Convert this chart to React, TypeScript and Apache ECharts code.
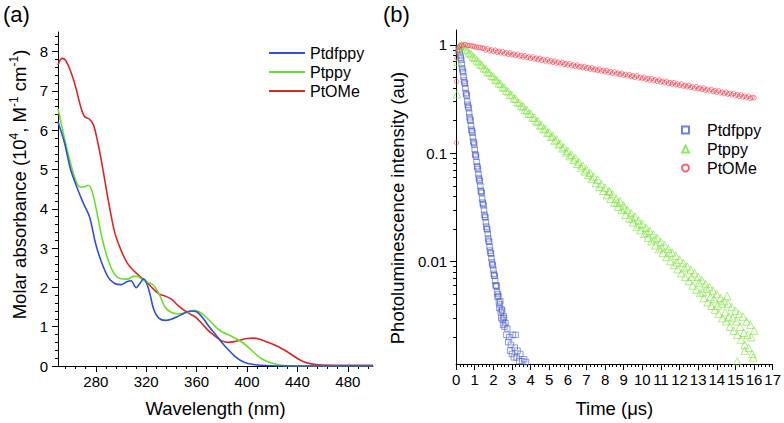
import React, { useEffect, useRef } from "react";
import * as echarts from "echarts";

const FONT = "'Liberation Sans', Arial, Helvetica, sans-serif";

// ---------- Panel (a): absorption spectra ----------
const seriesNames = ["Ptdfppy", "Ptppy", "PtOMe"];

const ptdfppyNm = [250, 255, 260, 265, 270, 275, 280, 285, 290, 295, 300, 305, 308, 312, 315, 318, 322, 326, 330, 335, 340, 345, 350, 355, 360, 365, 370, 375, 380, 385, 390, 395, 400, 405, 410, 420, 430, 500];
const ptdfppyAbs = [6.21, 5.7, 5.0, 4.55, 4.15, 3.8, 3.1, 2.6, 2.25, 2.1, 2.07, 2.15, 2.17, 1.99, 2.1, 2.22, 1.95, 1.44, 1.22, 1.16, 1.19, 1.26, 1.34, 1.4, 1.38, 1.22, 1.0, 0.8, 0.6, 0.42, 0.26, 0.14, 0.07, 0.04, 0.02, 0.005, 0, 0];

const ptppyNm = [250, 254, 259, 264, 268, 271, 274, 277, 280, 285, 290, 295, 300, 305, 310, 313, 317, 321, 325, 330, 335, 340, 345, 350, 355, 358, 362, 367, 372, 377, 382, 387, 392, 398, 403, 408, 413, 419, 425, 430, 440, 500];
const ptppyAbs = [6.55, 5.96, 5.28, 4.72, 4.55, 4.56, 4.6, 4.45, 4.05, 3.25, 2.68, 2.33, 2.22, 2.21, 2.28, 2.28, 2.2, 2.13, 2.08, 1.85, 1.5, 1.36, 1.33, 1.34, 1.39, 1.42, 1.38, 1.26, 1.1, 0.94, 0.84, 0.77, 0.68, 0.56, 0.42, 0.27, 0.16, 0.08, 0.03, 0.01, 0, 0];

const ptomeNm = [250, 253, 256, 260, 264, 268, 271, 275, 278, 281, 285, 290, 295, 300, 305, 310, 315, 320, 325, 330, 335, 340, 345, 350, 355, 360, 365, 370, 375, 380, 385, 390, 395, 400, 405, 410, 415, 420, 425, 430, 435, 440, 445, 450, 455, 460, 480, 500];
const ptomeAbs = [7.66, 7.83, 7.78, 7.5, 7.1, 6.6, 6.35, 6.28, 6.15, 5.78, 5.12, 4.2, 3.4, 2.95, 2.62, 2.43, 2.28, 2.15, 1.98, 1.84, 1.78, 1.7, 1.55, 1.42, 1.32, 1.22, 1.05, 0.88, 0.75, 0.64, 0.6, 0.62, 0.66, 0.7, 0.71, 0.68, 0.62, 0.56, 0.49, 0.4, 0.3, 0.19, 0.11, 0.06, 0.035, 0.025, 0.02, 0.02];

const wavelengthLabels = [280, 320, 360, 400, 440, 480];
const absorbanceLabels = [0, 1, 2, 3, 4, 5, 6, 7, 8];

// ---------- Panel (b): photoluminescence decays ----------
const ptdfppyDecay = [
  [0.15, 0.92], [0.2, 0.86], [0.25, 0.76], [0.3, 0.67], [0.35, 0.58], [0.4, 0.51], [0.45, 0.45], [0.5, 0.4],
  [0.55, 0.35], [0.6, 0.3], [0.65, 0.27], [0.7, 0.235], [0.75, 0.205], [0.8, 0.18], [0.85, 0.16], [0.9, 0.14],
  [0.95, 0.125], [1.0, 0.108], [1.05, 0.096], [1.1, 0.083], [1.15, 0.074], [1.2, 0.064], [1.25, 0.057], [1.3, 0.05],
  [1.35, 0.044], [1.4, 0.038], [1.45, 0.034], [1.5, 0.03], [1.55, 0.026], [1.6, 0.023], [1.65, 0.02], [1.7, 0.018],
  [1.75, 0.0155], [1.8, 0.0137], [1.85, 0.012], [1.9, 0.0107], [1.95, 0.0094], [2.0, 0.0084], [2.05, 0.0074],
  [2.1, 0.0066], [2.15, 0.006], [2.2, 0.0052], [2.25, 0.005], [2.3, 0.0042], [2.35, 0.004], [2.4, 0.0034],
  [2.45, 0.0036], [2.5, 0.0029], [2.55, 0.0031], [2.6, 0.0025], [2.65, 0.0027], [2.7, 0.0021], [2.75, 0.0024],
  [2.8, 0.0018], [2.85, 0.002], [2.9, 0.0015], [2.95, 0.0017], [3.0, 0.0014], [3.05, 0.0021], [3.1, 0.0013],
  [3.15, 0.0016], [3.2, 0.0021], [3.25, 0.0013], [3.3, 0.0015], [3.4, 0.0012], [3.45, 0.0014], [3.55, 0.0012],
  [3.65, 0.00125], [3.75, 0.00118],
  [0.175, 0.9], [0.225, 0.79], [0.275, 0.73], [0.325, 0.61], [0.375, 0.56], [0.425, 0.47], [0.475, 0.44],
  [0.525, 0.36], [0.575, 0.34], [0.625, 0.28], [0.675, 0.26], [0.725, 0.215], [0.775, 0.2], [0.825, 0.165],
  [0.875, 0.155], [0.925, 0.128], [0.975, 0.12], [1.025, 0.098], [1.075, 0.093], [1.125, 0.076], [1.175, 0.071],
  [1.225, 0.059], [1.275, 0.055], [1.325, 0.045], [1.375, 0.043], [1.425, 0.035], [1.475, 0.033], [1.525, 0.027],
  [1.575, 0.0255], [1.625, 0.021], [1.675, 0.0198], [1.725, 0.0163], [1.775, 0.0152], [1.825, 0.0126],
  [1.875, 0.0118], [1.925, 0.0098], [1.975, 0.0092], [2.025, 0.0077], [2.075, 0.0074], [2.125, 0.006],
  [2.175, 0.0059], [2.225, 0.0047], [2.275, 0.0048], [2.325, 0.0037], [2.375, 0.0043], [2.425, 0.003],
  [2.475, 0.0035], [2.525, 0.0026], [2.575, 0.003]
];

const ptppyDecay = [
  [0.05, 0.35], [0.08, 0.7], [0.12, 0.9], [0.2, 0.98],
  [0.3, 1.0], [0.4, 0.97], [0.5, 0.915], [0.6, 0.895], [0.7, 0.845], [0.8, 0.825], [0.9, 0.78], [1.0, 0.762],
  [1.1, 0.72], [1.2, 0.703], [1.3, 0.664], [1.4, 0.65], [1.5, 0.612], [1.6, 0.6], [1.7, 0.565], [1.8, 0.555],
  [1.9, 0.52], [2.0, 0.512], [2.1, 0.48], [2.2, 0.473], [2.3, 0.443], [2.4, 0.437], [2.5, 0.408], [2.6, 0.404],
  [2.7, 0.377], [2.8, 0.373], [2.9, 0.347], [3.0, 0.345], [3.1, 0.321], [3.2, 0.318], [3.3, 0.296], [3.4, 0.294],
  [3.5, 0.273], [3.6, 0.271], [3.7, 0.251], [3.8, 0.25], [3.9, 0.232], [4.0, 0.231], [4.1, 0.214], [4.2, 0.213],
  [4.3, 0.197], [4.4, 0.197], [4.5, 0.181], [4.6, 0.182], [4.7, 0.167], [4.8, 0.169], [4.9, 0.154], [5.0, 0.156],
  [5.1, 0.142], [5.2, 0.144], [5.3, 0.131], [5.4, 0.134], [5.5, 0.121], [5.6, 0.123], [5.7, 0.111], [5.8, 0.114],
  [5.9, 0.102], [6.0, 0.105], [6.1, 0.094], [6.2, 0.097], [6.3, 0.087], [6.4, 0.09], [6.5, 0.08], [6.6, 0.083],
  [6.7, 0.074], [6.8, 0.077], [6.9, 0.068], [7.0, 0.071], [7.1, 0.063], [7.2, 0.066], [7.3, 0.058], [7.4, 0.061],
  [7.5, 0.053], [7.6, 0.057], [7.7, 0.049], [7.8, 0.052], [7.9, 0.045], [8.0, 0.048], [8.1, 0.041], [8.2, 0.045],
  [8.3, 0.038], [8.4, 0.042], [8.5, 0.035], [8.6, 0.038], [8.7, 0.032], [8.8, 0.036], [8.9, 0.03], [9.0, 0.033],
  [9.1, 0.027], [9.2, 0.03], [9.3, 0.025], [9.4, 0.028], [9.5, 0.023], [9.6, 0.026], [9.7, 0.021], [9.8, 0.024],
  [9.9, 0.0195], [10.0, 0.0222], [10.1, 0.018], [10.2, 0.0205], [10.3, 0.0166], [10.4, 0.0192], [10.5, 0.0154],
  [10.6, 0.0178], [10.7, 0.0141], [10.8, 0.0165], [10.9, 0.013], [11.0, 0.0152], [11.1, 0.012], [11.2, 0.0141],
  [11.3, 0.011], [11.4, 0.0131], [11.5, 0.0101], [11.6, 0.0121], [11.7, 0.0093], [11.8, 0.0113], [11.9, 0.0085],
  [12.0, 0.0104], [12.1, 0.0078], [12.2, 0.0097], [12.3, 0.0072], [12.4, 0.009], [12.5, 0.0066], [12.6, 0.0084],
  [12.7, 0.006], [12.8, 0.0078], [12.9, 0.0055], [13.0, 0.0072], [13.1, 0.0051], [13.2, 0.0067], [13.3, 0.0046],
  [13.4, 0.0062], [13.5, 0.0042], [13.6, 0.0058], [13.7, 0.0039], [13.8, 0.0054], [13.9, 0.0036], [14.0, 0.005],
  [14.1, 0.0033], [14.2, 0.0046], [14.3, 0.003], [14.4, 0.0043], [14.5, 0.0028], [14.6, 0.0041], [14.7, 0.0025],
  [14.8, 0.0038], [14.9, 0.0023], [15.0, 0.0035], [15.1, 0.0021], [15.2, 0.0033], [15.3, 0.0019], [15.4, 0.0031],
  [15.5, 0.0017], [15.6, 0.0028], [15.7, 0.0016], [15.8, 0.0026], [15.9, 0.0014], [16.0, 0.0023],
  [8.25, 0.044], [8.65, 0.035], [9.05, 0.031], [9.45, 0.025], [9.85, 0.022], [10.25, 0.0185], [10.65, 0.016],
  [11.05, 0.0135], [11.45, 0.012], [11.85, 0.0098], [12.25, 0.0087], [12.65, 0.0072], [13.05, 0.0064],
  [13.25, 0.0052], [13.45, 0.0056], [13.65, 0.0047], [13.85, 0.0045], [14.05, 0.0039], [14.25, 0.0041],
  [14.45, 0.0034], [14.56, 0.0048], [14.65, 0.0031], [14.85, 0.003], [15.05, 0.0028], [15.25, 0.0025],
  [15.45, 0.0022], [15.65, 0.0021], [15.85, 0.002], [15.95, 0.0013], [15.1, 0.0012], [15.5, 0.0015]
];

const ptomeDecay = [
  [0.02, 0.125], [0.03, 0.46], [0.05, 0.76], [0.07, 0.88], [0.1, 0.95], [0.2, 0.98], [0.3, 0.99], [0.4, 1.0],
  [0.5, 1.01], [0.6, 0.99], [0.7, 0.99], [0.8, 0.98], [0.9, 0.975], [1.0, 0.965], [1.1, 0.955], [1.2, 0.95],
  [1.3, 0.945], [1.4, 0.935], [1.5, 0.93], [1.7, 0.92], [1.9, 0.9], [2.1, 0.895], [2.3, 0.875], [2.5, 0.87],
  [2.7, 0.85], [2.9, 0.845], [3.1, 0.825], [3.3, 0.82], [3.5, 0.8], [3.7, 0.797], [3.9, 0.778], [4.1, 0.775],
  [4.3, 0.755], [4.5, 0.752], [4.7, 0.735], [4.9, 0.732], [5.1, 0.714], [5.3, 0.711], [5.5, 0.693], [5.7, 0.69],
  [5.9, 0.673], [6.1, 0.671], [6.3, 0.654], [6.5, 0.652], [6.7, 0.635], [6.9, 0.633], [7.1, 0.617], [7.3, 0.615],
  [7.5, 0.599], [7.7, 0.598], [7.9, 0.583], [8.1, 0.581], [8.3, 0.566], [8.5, 0.565], [8.7, 0.55], [8.9, 0.548],
  [9.1, 0.535], [9.3, 0.533], [9.5, 0.519], [9.7, 0.518], [9.9, 0.504], [10.1, 0.503], [10.3, 0.49], [10.5, 0.489],
  [10.7, 0.476], [10.9, 0.475], [11.1, 0.462], [11.3, 0.462], [11.5, 0.449], [11.7, 0.449], [11.9, 0.436],
  [12.1, 0.436], [12.3, 0.424], [12.5, 0.424], [12.7, 0.412], [12.9, 0.412], [13.1, 0.4], [13.3, 0.4], [13.5, 0.389],
  [13.7, 0.388], [13.9, 0.378], [14.1, 0.377], [14.3, 0.367], [14.5, 0.366], [14.7, 0.357], [14.9, 0.356],
  [15.1, 0.347], [15.3, 0.346], [15.5, 0.337], [15.7, 0.336], [15.9, 0.328], [16.0, 0.325],
  [1.6, 0.896], [1.8, 0.883], [2.0, 0.871], [2.2, 0.858], [2.4, 0.846], [2.6, 0.833], [2.8, 0.821], [3.0, 0.81],
  [3.2, 0.798], [3.4, 0.787], [3.6, 0.775], [3.8, 0.764], [4.0, 0.753], [4.2, 0.743], [4.4, 0.732], [4.6, 0.721],
  [4.8, 0.711], [5.0, 0.701], [5.2, 0.691], [5.4, 0.681], [5.6, 0.671], [5.8, 0.662], [6.0, 0.652], [6.2, 0.643],
  [6.4, 0.634], [6.6, 0.625], [6.8, 0.616], [7.0, 0.607], [7.2, 0.598], [7.4, 0.59], [7.6, 0.581], [7.8, 0.573],
  [8.0, 0.565], [8.2, 0.556], [8.4, 0.549], [8.6, 0.541], [8.8, 0.533], [9.0, 0.525], [9.2, 0.518], [9.4, 0.51],
  [9.6, 0.503], [9.8, 0.496], [10.0, 0.489], [10.2, 0.482], [10.4, 0.475], [10.6, 0.468], [10.8, 0.461],
  [11.0, 0.455], [11.2, 0.448], [11.4, 0.442], [11.6, 0.436], [11.8, 0.429], [12.0, 0.423], [12.2, 0.417],
  [12.4, 0.411], [12.6, 0.405], [12.8, 0.399], [13.0, 0.394], [13.2, 0.388], [13.4, 0.382], [13.6, 0.377],
  [13.8, 0.371], [14.0, 0.366], [14.2, 0.361], [14.4, 0.356], [14.6, 0.351], [14.8, 0.346], [15.0, 0.341],
  [15.2, 0.336], [15.4, 0.331], [15.6, 0.326], [15.8, 0.321]
];

const intensityLabels = [0.01, 0.1, 1];
const intensityMinorTicks = [0.002, 0.003, 0.004, 0.005, 0.006, 0.007, 0.008, 0.009, 0.02, 0.03, 0.04, 0.05, 0.06, 0.07, 0.08, 0.09, 0.2, 0.3, 0.4, 0.5, 0.6, 0.7, 0.8, 0.9];

const lineColors = ["#2f4fd8", "#66e02a", "#e02424"];
const markerColors = ["#4f60d4", "#7ce23a", "#ef3f52"];

const zip = (xs: number[], ys: number[]) => xs.map((x, i) => [x, ys[i]]);

const tickLabelStyle = { fontSize: 15, color: "#000", fontFamily: FONT };
const axisLineStyle = { show: true, lineStyle: { color: "#000", width: 1 } };

function leftOption(): any {
  const minorX: number[] = [];
  for (let v = 256; v <= 496; v += 8) if ((v - 280) % 40 !== 0) minorX.push(v);
  const minorY: number[] = [];
  for (let i = 1; i <= 42; i++) if (i % 5 !== 0) minorY.push(+(i * 0.2).toFixed(1));
  return {
    animation: false,
    textStyle: { fontFamily: FONT },
    graphic: [
      { type: "text", left: 3, top: 3, style: { text: "(a)", fontSize: 22, fill: "#000", fontFamily: FONT } },
    ],
    grid: { left: 55, right: 7, top: 32, bottom: 56 },
    legend: {
      orient: "vertical",
      left: 263,
      top: 40,
      itemWidth: 36,
      itemHeight: 14,
      itemGap: 3,
      itemStyle: { opacity: 0 },
      textStyle: { fontSize: 16, color: "#000", fontFamily: FONT },
      data: seriesNames,
    },
    xAxis: [
      {
        type: "value",
        min: 250,
        max: 500,
        name: "Wavelength (nm)",
        nameLocation: "middle",
        nameGap: 33,
        nameTextStyle: { fontSize: 18.5, color: "#000", fontFamily: FONT },
        axisLine: axisLineStyle,
        axisTick: { show: true, length: 6, customValues: wavelengthLabels, lineStyle: { color: "#000" } },
        axisLabel: { ...tickLabelStyle, margin: 8, customValues: wavelengthLabels },
        splitLine: { show: false },
      },
      {
        type: "value",
        min: 250,
        max: 500,
        position: "bottom",
        axisLine: { show: false },
        axisTick: { show: true, length: 3, customValues: minorX, lineStyle: { color: "#000" } },
        axisLabel: { show: false },
        splitLine: { show: false },
      },
    ],
    yAxis: [
      {
        type: "value",
        min: 0,
        max: 8.5,
        name: "{a|Molar absorbance (10}{s|4}{a|, M}{s|-1}{a| cm}{s|-1}{a|)}",
        nameLocation: "middle",
        nameGap: 28,
        nameTextStyle: {
          padding: [0, 0, 0, 29],
          rich: {
            a: { fontSize: 18.5, color: "#000", fontFamily: FONT, lineHeight: 22 },
            s: { fontSize: 12, color: "#000", fontFamily: FONT, verticalAlign: "top", lineHeight: 22, padding: [0, 0, 8, 0] },
          },
        },
        axisLine: axisLineStyle,
        axisTick: { show: true, length: 6, customValues: absorbanceLabels, lineStyle: { color: "#000" } },
        axisLabel: { ...tickLabelStyle, margin: 10, customValues: absorbanceLabels },
        splitLine: { show: false },
      },
      {
        type: "value",
        min: 0,
        max: 8.5,
        position: "left",
        axisLine: { show: false },
        axisTick: { show: true, length: 3, customValues: minorY, lineStyle: { color: "#000" } },
        axisLabel: { show: false },
        splitLine: { show: false },
      },
    ],
    series: [
      [ptdfppyNm, ptdfppyAbs],
      [ptppyNm, ptppyAbs],
      [ptomeNm, ptomeAbs],
    ].map(([xs, ys], i) => ({
      type: "line",
      name: seriesNames[i],
      data: zip(xs, ys),
      symbol: "none",
      smooth: 0.3,
      lineStyle: { width: 1.6, color: lineColors[i] },
      itemStyle: { color: lineColors[i] },
      z: 3 - i,
    })),
  };
}

function rightOption(): any {
  const symbols = ["rect", "triangle", "circle"];
  const sizes = [5.5, 7.5, 4.5];
  return {
    animation: false,
    textStyle: { fontFamily: FONT },
    graphic: [
      { type: "text", left: 3, top: 3, style: { text: "(b)", fontSize: 22, fill: "#000", fontFamily: FONT } },
    ],
    grid: { left: 75.7, right: 10, top: 30, bottom: 58.7 },
    legend: {
      orient: "vertical",
      left: 296,
      top: 117,
      itemWidth: 7,
      itemHeight: 7,
      itemGap: 3,
      textStyle: { fontSize: 16, color: "#000", fontFamily: FONT, padding: [0, 0, 0, 13] },
      data: seriesNames,
    },
    xAxis: {
      type: "value",
      min: 0,
      max: 17,
      interval: 1,
      name: "Time (\u03bcs)",
      nameLocation: "middle",
      nameGap: 35,
      nameTextStyle: { fontSize: 18.5, color: "#000", fontFamily: FONT },
      axisLine: axisLineStyle,
      axisTick: { show: true, length: 6, lineStyle: { color: "#000" } },
      minorTick: { show: true, splitNumber: 5, length: 3, lineStyle: { color: "#000" } },
      axisLabel: { ...tickLabelStyle, margin: 8, interval: 0, hideOverlap: false },
      splitLine: { show: false },
      minorSplitLine: { show: false },
    },
    yAxis: [
      {
        type: "log",
        logBase: 10,
        min: 0.00113,
        max: 1.375,
        name: "Photoluminescence intensity (au)",
        nameLocation: "middle",
        nameGap: 48,
        nameTextStyle: { fontSize: 18.5, color: "#000", fontFamily: FONT, padding: [0, 22, 0, 0] },
        axisLine: axisLineStyle,
        axisTick: { show: true, length: 6, customValues: intensityLabels, lineStyle: { color: "#000" } },
        axisLabel: {
          ...tickLabelStyle,
          margin: 9,
          customValues: intensityLabels,
          formatter: (v: number) => String(+Number(v).toPrecision(3)),
        },
        splitLine: { show: false },
      },
      {
        type: "log",
        logBase: 10,
        min: 0.00113,
        max: 1.375,
        position: "left",
        axisLine: { show: false },
        axisTick: { show: true, length: 3, customValues: intensityMinorTicks, lineStyle: { color: "#000" } },
        axisLabel: { show: false },
        splitLine: { show: false },
      },
    ],
    series: [ptdfppyDecay, ptppyDecay, ptomeDecay].map((d, i) => ({
      type: "scatter",
      name: seriesNames[i],
      data: d,
      symbol: symbols[i],
      symbolSize: sizes[i],
      itemStyle: { color: "rgba(255,255,255,0)", borderColor: markerColors[i], borderWidth: 0.8 },
    })),
  };
}

export default function App() {
  const leftRef = useRef<HTMLDivElement>(null);
  const rightRef = useRef<HTMLDivElement>(null);
  useEffect(() => {
    const l = echarts.init(leftRef.current!, null, { renderer: "svg" });
    l.setOption(leftOption());
    const r = echarts.init(rightRef.current!, null, { renderer: "svg" });
    r.setOption(rightOption());
    return () => {
      l.dispose();
      r.dispose();
    };
  }, []);
  return (
    <div style={{ position: "fixed", left: 0, top: 0, width: 784, height: 423, background: "#fff" }}>
      <div ref={leftRef} style={{ position: "absolute", left: 0, top: 0, width: 380, height: 423 }} />
      <div ref={rightRef} style={{ position: "absolute", left: 380, top: 0, width: 404, height: 423 }} />
    </div>
  );
}
